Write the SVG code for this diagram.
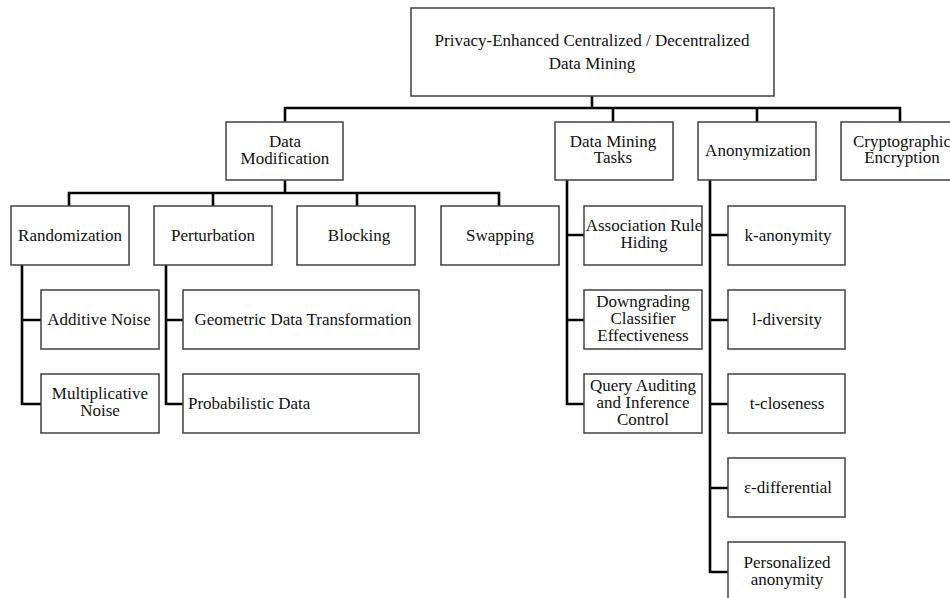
<svg xmlns="http://www.w3.org/2000/svg" width="950" height="598" viewBox="0 0 950 598">
  <style>
    .box { fill: #ffffff; stroke: #404040; stroke-width: 1.5; }
    .lbl { font-family: "Liberation Serif", "Times New Roman", serif; font-size: 17px; fill: #111111; text-anchor: middle; }
    .lft { text-anchor: start; }
    .wire { fill: none; stroke: #000000; stroke-width: 2.6; stroke-linejoin: miter; stroke-linecap: square; }
  </style>
  <rect width="950" height="598" fill="#ffffff"/>

  <!-- connectors -->
  <g id="connectors" class="wire">
    <!-- root to first level -->
    <path d="M592 96 V108 M285 108 H900 M285 108 V121 M613 108 V121 M757 108 V121 M900 108 V121"/>
    <!-- data modification to techniques -->
    <path d="M285 180 V193 M69 193 H499 M69 193 V205 M213 193 V205 M357 193 V205 M499 193 V205"/>
    <!-- randomization -->
    <path d="M22 265 V404 H41 M22 320 H41"/>
    <!-- perturbation -->
    <path d="M166 265 V404 H183 M166 320 H183"/>
    <!-- data mining tasks -->
    <path d="M567 180 V404 H584 M567 235 H584 M567 320 H584"/>
    <!-- anonymization -->
    <path d="M710 180 V572 H727 M710 235 H727 M710 320 H727 M710 404 H727 M710 488 H727"/>
  </g>

  <g id="root">
    <rect class="box" x="411" y="8" width="363" height="88"/>
    <text class="lbl" x="592" y="46">Privacy-Enhanced Centralized / Decentralized</text>
    <text class="lbl" x="592" y="69">Data Mining</text>
  </g>

  <g id="data-modification">
    <rect class="box" x="226" y="122" width="117" height="58"/>
    <text class="lbl" x="285" y="147">Data</text>
    <text class="lbl" x="285" y="164">Modification</text>
  </g>
  <g id="data-mining-tasks">
    <rect class="box" x="555" y="122" width="118" height="58"/>
    <text class="lbl" x="613" y="147">Data Mining</text>
    <text class="lbl" x="613" y="163">Tasks</text>
  </g>
  <g id="anonymization">
    <rect class="box" x="698" y="122" width="118" height="58"/>
    <text class="lbl" x="758" y="156">Anonymization</text>
  </g>
  <g id="cryptographic-encryption">
    <rect class="box" x="841" y="122" width="118" height="58"/>
    <text class="lbl" x="902" y="147">Cryptographic</text>
    <text class="lbl" x="902" y="163">Encryption</text>
  </g>

  <g id="randomization">
    <rect class="box" x="11" y="206" width="118" height="59"/>
    <text class="lbl" x="70" y="241">Randomization</text>
  </g>
  <g id="perturbation">
    <rect class="box" x="154" y="206" width="118" height="59"/>
    <text class="lbl" x="213" y="241">Perturbation</text>
  </g>
  <g id="blocking">
    <rect class="box" x="297" y="206" width="118" height="59"/>
    <text class="lbl" x="359" y="241">Blocking</text>
  </g>
  <g id="swapping">
    <rect class="box" x="441" y="206" width="118" height="59"/>
    <text class="lbl" x="500" y="241">Swapping</text>
  </g>

  <g id="additive-noise">
    <rect class="box" x="41" y="290" width="118" height="59"/>
    <text class="lbl" x="99" y="325">Additive Noise</text>
  </g>
  <g id="multiplicative-noise">
    <rect class="box" x="41" y="374" width="118" height="59"/>
    <text class="lbl" x="100" y="399">Multiplicative</text>
    <text class="lbl" x="100" y="416">Noise</text>
  </g>
  <g id="geometric-data-transformation">
    <rect class="box" x="183" y="290" width="236" height="59"/>
    <text class="lbl" x="303" y="325">Geometric Data Transformation</text>
  </g>
  <g id="probabilistic-data">
    <rect class="box" x="183" y="374" width="236" height="59"/>
    <text class="lbl lft" x="188" y="409">Probabilistic Data</text>
  </g>

  <g id="association-rule-hiding">
    <rect class="box" x="584" y="206" width="118" height="59"/>
    <text class="lbl" x="644" y="231">Association Rule</text>
    <text class="lbl" x="644" y="248">Hiding</text>
  </g>
  <g id="downgrading-classifier-effectiveness">
    <rect class="box" x="584" y="290" width="118" height="59"/>
    <text class="lbl" x="643" y="307">Downgrading</text>
    <text class="lbl" x="643" y="324">Classifier</text>
    <text class="lbl" x="643" y="341">Effectiveness</text>
  </g>
  <g id="query-auditing">
    <rect class="box" x="584" y="374" width="118" height="59"/>
    <text class="lbl" x="643" y="391">Query Auditing</text>
    <text class="lbl" x="643" y="408">and Inference</text>
    <text class="lbl" x="643" y="425">Control</text>
  </g>

  <g id="k-anonymity">
    <rect class="box" x="728" y="206" width="117" height="59"/>
    <text class="lbl" x="788" y="241">k-anonymity</text>
  </g>
  <g id="l-diversity">
    <rect class="box" x="728" y="290" width="117" height="59"/>
    <text class="lbl" x="787" y="325">l-diversity</text>
  </g>
  <g id="t-closeness">
    <rect class="box" x="728" y="374" width="117" height="59"/>
    <text class="lbl" x="787" y="409">t-closeness</text>
  </g>
  <g id="e-differential">
    <rect class="box" x="728" y="458" width="117" height="59"/>
    <text class="lbl" x="788" y="493">ε-differential</text>
  </g>
  <g id="personalized-anonymity">
    <rect class="box" x="728" y="542" width="117" height="70"/>
    <text class="lbl" x="787" y="568">Personalized</text>
    <text class="lbl" x="787" y="585">anonymity</text>
  </g>
</svg>
